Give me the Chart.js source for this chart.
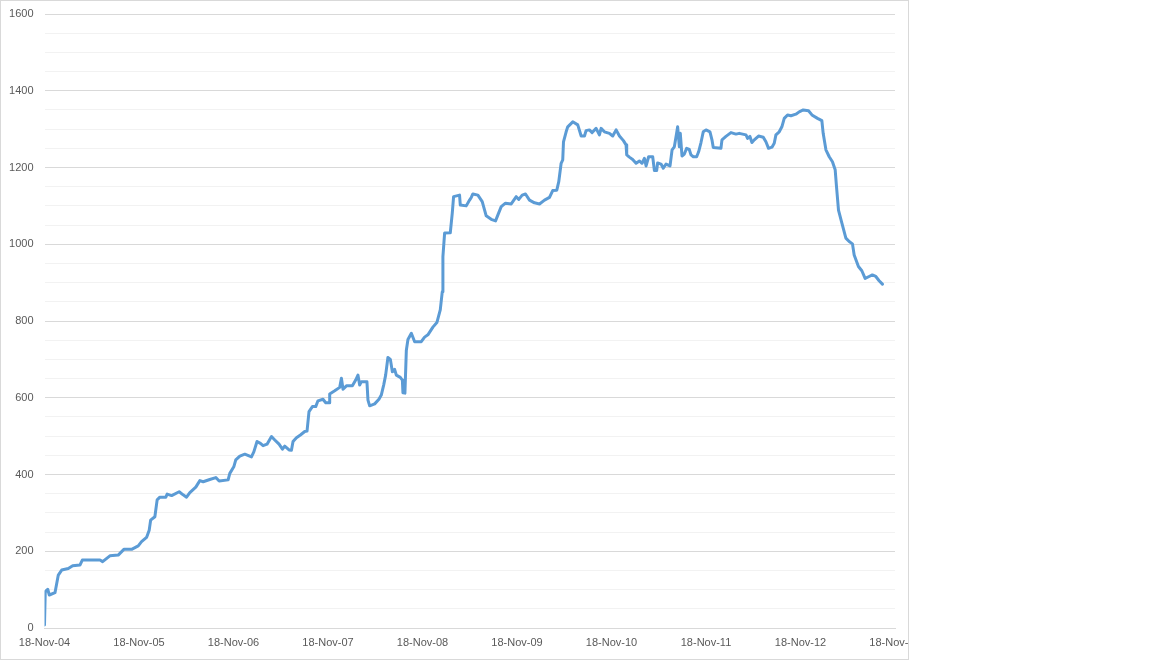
<!DOCTYPE html>
<html>
<head>
<meta charset="utf-8">
<script src="https://cdn.jsdelivr.net/npm/chart.js@4/dist/chart.umd.min.js"></script>
<style>
  html, body { margin: 0; padding: 0; background: #ffffff; }
  #wrap { position: absolute; left: 0; top: 0; width: 909px; height: 660px; overflow: hidden; background: #fff; }
  #c { position: absolute; left: 0; top: 0; }
  #frame { position: absolute; left: 0; top: 0; width: 909px; height: 660px; box-sizing: border-box; border: 1px solid #d9d9d9; pointer-events: none; }
</style>
</head>
<body>
<div id="wrap">
  <canvas id="c" width="935" height="660" style="width:935px;height:660px"></canvas>
  <div id="frame"></div>
</div>
<script>
// x positions: years elapsed since 18-Nov-2004
const yearsSinceStart = [
  0.000, 0.008, 0.034, 0.051, 0.111, 0.146, 0.182, 0.252, 0.298, 0.375, 0.400, 0.587, 0.615, 0.692, 0.780, 0.840, 0.922, 0.992,
  1.027, 1.080, 1.108, 1.123, 1.168, 1.192, 1.221, 1.284, 1.298, 1.345, 1.425, 1.467, 1.503, 1.538, 1.601, 1.644, 1.679, 1.749, 1.813, 1.848, 1.943, 1.961,
  2.003, 2.024, 2.067, 2.120, 2.190, 2.215, 2.249, 2.285, 2.313, 2.355, 2.402, 2.437, 2.482, 2.518, 2.542, 2.588, 2.613, 2.630, 2.666, 2.708, 2.754, 2.778, 2.799, 2.835, 2.870, 2.894, 2.947, 2.976,
  3.011, 3.018, 3.071, 3.124, 3.142, 3.159, 3.195, 3.258, 3.293, 3.317, 3.335, 3.353, 3.412, 3.423, 3.441, 3.494, 3.539, 3.564, 3.589, 3.610, 3.634, 3.660, 3.681, 3.705, 3.723, 3.765, 3.787, 3.793, 3.814, 3.829, 3.846, 3.882, 3.917, 3.987,
  4.022, 4.057, 4.110, 4.152, 4.188, 4.209, 4.216, 4.234, 4.294, 4.315, 4.329, 4.392, 4.400, 4.463, 4.498, 4.516, 4.533, 4.586, 4.632, 4.674, 4.727, 4.773, 4.797, 4.833, 4.878, 4.939, 4.992,
  5.019, 5.055, 5.090, 5.132, 5.185, 5.238, 5.291, 5.344, 5.378, 5.421, 5.442, 5.467, 5.484, 5.492, 5.520, 5.537, 5.590, 5.643, 5.679, 5.714, 5.731, 5.766, 5.795, 5.837, 5.872, 5.890, 5.925, 5.978,
  6.013, 6.049, 6.084, 6.126, 6.154, 6.161, 6.189, 6.224, 6.260, 6.295, 6.323, 6.348, 6.366, 6.393, 6.436, 6.454, 6.478, 6.488, 6.524, 6.548, 6.577, 6.619, 6.641, 6.665, 6.689, 6.700, 6.718, 6.728, 6.746, 6.771, 6.795, 6.823, 6.841, 6.866, 6.901, 6.922, 6.947, 6.971,
  7.000, 7.042, 7.063, 7.077, 7.158, 7.169, 7.211, 7.264, 7.317, 7.352, 7.423, 7.440, 7.465, 7.486, 7.511, 7.556, 7.606, 7.634, 7.662, 7.698, 7.722, 7.740, 7.775, 7.803, 7.828, 7.863, 7.899, 7.951, 7.986,
  8.029, 8.085, 8.121, 8.180, 8.226, 8.240, 8.269, 8.304, 8.338, 8.367, 8.381, 8.402, 8.438, 8.480, 8.515, 8.550, 8.568, 8.613, 8.649, 8.684, 8.726, 8.760, 8.797, 8.832, 8.867
];
const seriesValues = [
  8, 95, 101, 86, 92, 138, 151, 155, 162, 164, 177, 177, 173, 188, 190, 205, 205, 214,
  225, 236, 255, 281, 290, 334, 341, 341, 349, 345, 355, 347, 341, 353, 367, 384, 381, 387, 392, 383, 386, 403,
  420, 438, 448, 453, 446, 459, 486, 481, 475, 479, 499, 490, 479, 466, 474, 464, 463, 486, 496, 503, 512, 513, 564, 577, 577, 592, 596, 587,
  587, 610, 618, 627, 651, 622, 631, 631, 646, 659, 633, 642, 642, 594, 579, 584, 596, 607, 633, 659, 705, 700, 668, 674, 659, 653, 646, 613, 612, 724, 752, 768, 746, 746,
  758, 764, 784, 796, 829, 876, 968, 1029, 1030, 1081, 1124, 1128, 1102, 1100, 1115, 1122, 1131, 1128, 1111, 1074, 1065, 1061, 1076, 1098, 1107, 1105, 1124,
  1117, 1128, 1131, 1115, 1108, 1105, 1115, 1122, 1140, 1141, 1163, 1211, 1220, 1267, 1293, 1306, 1319, 1311, 1282, 1282, 1296, 1298, 1291, 1302, 1285, 1302, 1293, 1289,
  1282, 1298, 1282, 1270, 1259, 1233, 1227, 1221, 1211, 1217, 1211, 1224, 1204, 1228, 1228, 1192, 1192, 1212, 1209, 1198, 1209, 1204, 1246, 1254, 1289, 1306, 1254, 1289, 1230, 1235, 1250, 1247, 1233, 1228, 1228, 1241, 1265, 1293,
  1298, 1293, 1272, 1252, 1250, 1272, 1281, 1291, 1287, 1289, 1285, 1276, 1281, 1265, 1272, 1282, 1279, 1267, 1250, 1253, 1263, 1285, 1293, 1306, 1328, 1337, 1335, 1339, 1345,
  1350, 1348, 1337, 1328, 1322, 1289, 1246, 1228, 1215, 1194, 1150, 1089, 1055, 1016, 1007, 1001, 972, 942, 931, 911, 916, 920, 916, 905, 896
];
const xTickLabels = ['18-Nov-04', '18-Nov-05', '18-Nov-06', '18-Nov-07', '18-Nov-08', '18-Nov-09', '18-Nov-10', '18-Nov-11', '18-Nov-12', '18-Nov-13'];
const yMajorStep = 200;
const yMinorStep = 50;
const yMax = 1600;

const points = yearsSinceStart.map((x, i) => ({ x: x, y: seriesValues[i] }));
const FONT = { family: '"Liberation Sans", Arial, sans-serif', size: 11 };

new Chart(document.getElementById('c'), {
  type: 'line',
  data: {
    datasets: [{
      data: points,
      borderColor: '#5b9bd5',
      borderWidth: 3,
      pointRadius: 0,
      tension: 0,
      borderJoinStyle: 'round',
      borderCapStyle: 'round',
      fill: false
    }]
  },
  options: {
    responsive: false,
    animation: false,
    events: [],
    layout: { padding: { left: 9, right: 40, top: 14, bottom: 10 } },
    plugins: { legend: { display: false }, tooltip: { enabled: false } },
    scales: {
      x: {
        type: 'linear',
        min: 0,
        max: xTickLabels.length - 1,
        grid: { display: false, drawTicks: false },
        border: { display: true, color: '#d9d9d9', width: 1 },
        ticks: {
          stepSize: 1,
          autoSkip: false,
          maxRotation: 0,
          padding: 8,
          color: '#595959',
          font: FONT,
          callback: (v) => xTickLabels[Math.round(v)] ?? ''
        },
        afterFit: (s) => { s.height = 22; s.paddingLeft = 0; s.paddingRight = 0; }
      },
      y: {
        min: 0,
        max: yMax,
        grid: {
          drawTicks: false,
          color: (ctx) => (ctx.tick && ctx.tick.value % yMajorStep === 0) ? '#d9d9d9' : '#f2f2f2',
          lineWidth: 1
        },
        border: { display: false },
        ticks: {
          stepSize: yMinorStep,
          autoSkip: false,
          padding: 11,
          color: '#595959',
          font: FONT,
          callback: (v) => (v % yMajorStep === 0) ? String(v) : ''
        },
        afterFit: (s) => { s.width = 35.5; s.paddingTop = 0; s.paddingBottom = 0; }
      }
    }
  }
});
</script>
</body>
</html>
